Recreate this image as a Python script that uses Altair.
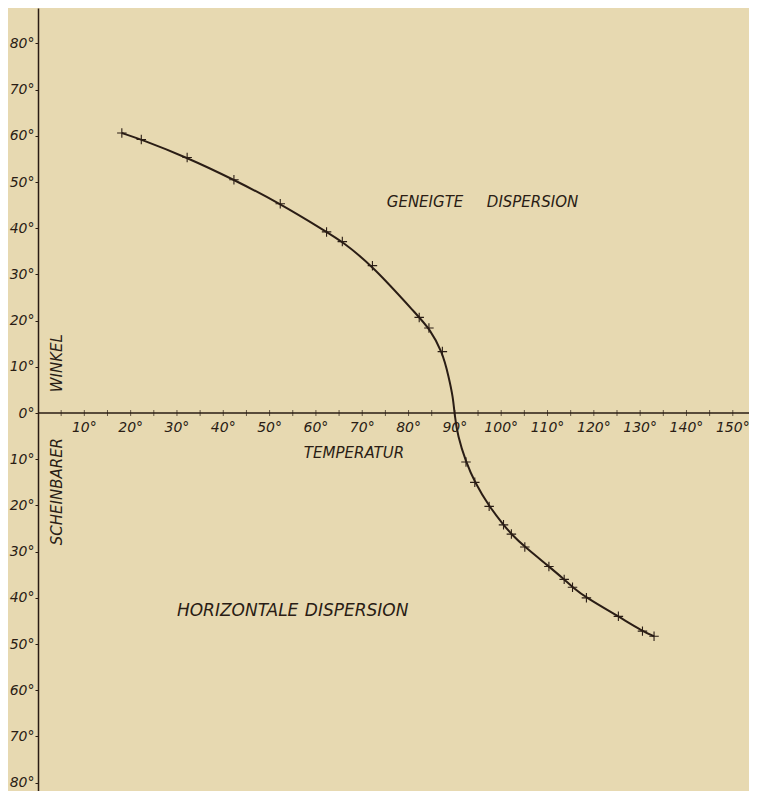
import altair as alt
import pandas as pd

# Measured points (+ markers): temperature (°C) vs apparent angle (°)
temp_points = [18.1, 22.3, 32.2, 42.3, 52.3, 62.3, 65.7, 72.2, 82.3, 84.4, 87.3,
               92.4, 94.3, 97.4, 100.5, 102.2, 105.1, 110.3, 113.6, 115.4, 118.4, 125.3, 130.5, 133.0]
angle_points = [60.6, 59.2, 55.3, 50.5, 45.3, 39.2, 37.1, 31.9, 20.7, 18.4, 13.3,
                -10.6, -15.0, -20.2, -24.2, -26.2, -29.0, -33.2, -36.0, -37.7, -40.0, -44.0, -47.2, -48.3]

# Extra points read along the drawn curve near the crossing at 90°
curve_temp_extra = [88.7, 89.6, 89.9, 90.6]
curve_angle_extra = [7.7, 3.4, 0.0, -5.0]

# Temperature axis (drawn along the 0° line)
x_axis_range = [0, 153.5]
x_tick_values = list(range(5, 151, 5))
x_label_values = list(range(10, 151, 10))
y_tick_values = list(range(-80, 86, 5))

# Annotations (one entry per word)
ann_text = ["GENEIGTE", "DISPERSION", "TEMPERATUR"]
ann_temp = [75.3, 96.9, 57.4]
ann_angle = [45.7, 45.7, -8.6]

ann2_text = ["HORIZONTALE", "DISPERSION"]
ann2_temp = [30.0, 57.6]
ann2_angle = [-42.9, -42.9]

side_text = ["WINKEL", "SCHEINBARER"]
side_temp = [4.1, 4.1]
side_angle = [10.8, -17.0]

INK = "#2a1d15"
BG = "#e7d9b1"
FONT = "DejaVu Sans"

pts = pd.DataFrame({"T": temp_points, "A": angle_points})
curve = pd.concat([
    pts,
    pd.DataFrame({"T": curve_temp_extra, "A": curve_angle_extra}),
]).sort_values("A").reset_index(drop=True)

zero_df = pd.DataFrame({"T": [x_axis_range[0]], "T2": [x_axis_range[1]], "A": [0]})
xticks = pd.DataFrame({"T": x_tick_values, "A": [0] * len(x_tick_values)})
xlabels = pd.DataFrame({"T": x_label_values, "A": [0] * len(x_label_values),
                        "label": [f"{v}°" for v in x_label_values]})
ann = pd.DataFrame({"label": ann_text, "T": ann_temp, "A": ann_angle})
ann2 = pd.DataFrame({"label": ann2_text, "T": ann2_temp, "A": ann2_angle})
side = pd.DataFrame({"label": side_text, "T": side_temp, "A": side_angle})

W, H = 711, 783
YMIN, YMAX = -81.8, 87.66

xs = alt.Scale(domain=x_axis_range, nice=False, zero=False)
ys = alt.Scale(domain=[YMIN, YMAX], nice=False, zero=False)

X = alt.X("T:Q", scale=xs, axis=None)
Y = alt.Y("A:Q", scale=ys, title=None, axis=alt.Axis(
    values=y_tick_values, grid=False, tickSize=3,
    labelExpr="datum.value % 10 == 0 ? abs(datum.value) + '°' : ''",
    labelPadding=1, labelFlush=False, labelOverlap=False))
Y2 = alt.Y("A:Q", scale=ys)

line = alt.Chart(curve).mark_line(
    interpolate="basis", color=INK, strokeWidth=2
).encode(x=X, y=Y, order="A:Q")

zero_line = alt.Chart(zero_df).mark_rule(color=INK, strokeWidth=1.5).encode(
    x=X, x2="T2:Q", y=Y2)

tick_marks = alt.Chart(xticks).mark_tick(
    orient="vertical", size=6, thickness=1, color=INK
).encode(x=X, y=Y2)

tick_labels = alt.Chart(xlabels).mark_text(
    align="center", baseline="middle", dy=15, font=FONT, fontStyle="italic",
    fontSize=14, color=INK
).encode(x=X, y=Y2, text="label:N")

marks = alt.Chart(pts).mark_point(
    shape="M-1,0H1M0,-1V1", size=90, filled=False, color=INK, strokeWidth=1.1, opacity=1
).encode(x=X, y=Y2)

labels = alt.Chart(ann).mark_text(
    align="left", baseline="middle", font=FONT, fontStyle="italic",
    fontSize=15, color=INK
).encode(x=X, y=Y2, text="label:N")

labels2 = alt.Chart(ann2).mark_text(
    align="left", baseline="middle", font=FONT, fontStyle="italic",
    fontSize=17, color=INK
).encode(x=X, y=Y2, text="label:N")

side_labels = alt.Chart(side).mark_text(
    align="center", baseline="middle", angle=270, font=FONT, fontStyle="italic",
    fontSize=15, color=INK
).encode(x=X, y=Y2, text="label:N")

chart = alt.layer(line, zero_line, tick_marks, tick_labels, marks, labels, labels2,
                  side_labels).properties(
    width=W, height=H,
    autosize=alt.AutoSizeParams(type="none"),
    padding={"left": 30, "top": 0, "right": 0, "bottom": 0},
    background=BG,
).configure_view(stroke=None).configure_axis(
    domainColor=INK, domainWidth=1.5, tickColor=INK, tickWidth=1,
    labelFont=FONT, labelFontStyle="italic", labelFontSize=14, labelColor=INK,
)

chart.save("out.html", embed_options={"renderer": "svg", "actions": False})
